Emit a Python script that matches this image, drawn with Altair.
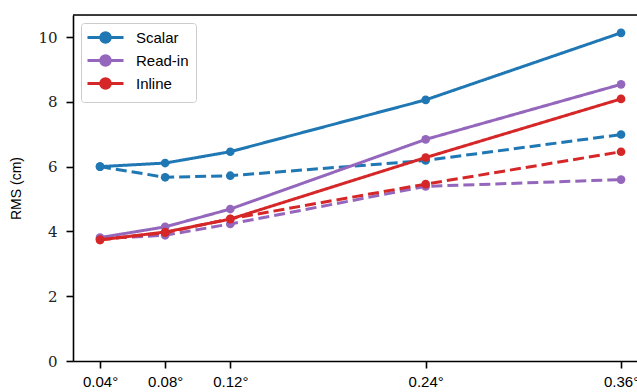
import altair as alt
import pandas as pd

angles = [0.04, 0.08, 0.12, 0.24, 0.36]
tick_labels = ["0.04°", "0.08°", "0.12°", "0.24°", "0.36°"]
methods = ["Scalar", "Read-in", "Inline"]
colors = ["#1f77b4", "#9467bd", "#d62728"]

scalar_solid = [6.00, 6.11, 6.46, 8.06, 10.13]
scalar_dashed = [6.00, 5.67, 5.72, 6.19, 6.99]
readin_solid = [3.81, 4.14, 4.69, 6.84, 8.54]
readin_dashed = [3.78, 3.88, 4.23, 5.39, 5.60]
inline_solid = [3.74, 3.98, 4.38, 6.28, 8.09]
inline_dashed = [3.74, 3.96, 4.39, 5.46, 6.46]

series = {
    ("Scalar", "solid"): scalar_solid,
    ("Scalar", "dashed"): scalar_dashed,
    ("Read-in", "solid"): readin_solid,
    ("Read-in", "dashed"): readin_dashed,
    ("Inline", "solid"): inline_solid,
    ("Inline", "dashed"): inline_dashed,
}

rows = []
for (m, k), vals in series.items():
    for a, v in zip(angles, vals):
        rows.append({"method": m, "kind": k, "angle": a, "rms": v})
df = pd.DataFrame(rows)

label_expr = "{" + ",".join(f"'{a}':'{t}'" for a, t in zip(angles, tick_labels)) + "}[toString(datum.value)]"

x_enc = alt.X(
    "angle:Q",
    scale=alt.Scale(domain=[0.0234, 0.3698], nice=False, zero=False),
    axis=alt.Axis(
        values=angles, labelExpr=label_expr, title=None, grid=False,
        domainColor="black", domainWidth=1.6, tickColor="black", tickWidth=1.6,
        tickSize=7, labelPadding=6, labelFont="Liberation Sans", labelFontSize=15,
        labelColor="black",
    ),
)
y_enc = alt.Y(
    "rms:Q",
    scale=alt.Scale(domain=[0, 10.68], nice=False),
    axis=alt.Axis(
        values=[0, 2, 4, 6, 8, 10], title="RMS (cm)", grid=False,
        domainColor="black", domainWidth=1.6, tickColor="black", tickWidth=1.6,
        tickSize=7, labelPadding=9, labelFont="DejaVu Serif", labelFontSize=15,
        labelColor="#222", titleFont="Liberation Sans", titleFontSize=14,
        titleFontWeight="normal", titleColor="black", titlePadding=14,
    ),
)

legend_path = "M-3.6,0L3.6,0M-0.95,0A0.95,0.95,0,1,1,0.95,0A0.95,0.95,0,1,1,-0.95,0Z"

color_enc = alt.Color(
    "method:N",
    scale=alt.Scale(domain=methods, range=colors),
    legend=alt.Legend(
        title=None, orient="top-left", offset=8, padding=7,
        symbolType=legend_path, symbolSize=100, symbolStrokeWidth=3,
        symbolOffset=10,
        labelFont="Liberation Sans", labelFontSize=15, labelColor="black",
        labelOffset=23, rowPadding=0, strokeColor="#cccccc", fillColor="white",
        cornerRadius=3, symbolOpacity=1,
    ),
)

layers = []
for m in methods:
    sub = df[df.method == m]
    layers.append(
        alt.Chart(sub).mark_line(
            strokeWidth=3,
            point=alt.OverlayMarkDef(filled=True, size=75, opacity=1),
        ).encode(
            x=x_enc,
            y=y_enc,
            color=color_enc,
            strokeDash=alt.StrokeDash(
                "kind:N",
                scale=alt.Scale(domain=["solid", "dashed"], range=[[1, 0], [11, 5]]),
                legend=None,
            ),
            detail="kind:N",
        )
    )

top_spine = alt.Chart(pd.DataFrame({"v": [0]})).mark_rule(
    color="black", strokeWidth=1.6
).encode(x=alt.value(0), x2=alt.value(564), y=alt.value(0))

chart = alt.layer(*layers, top_spine).properties(
    width=564, height=346,
    autosize=alt.AutoSizeParams(type="none"),
    padding={"left": 73, "top": 15, "right": 0, "bottom": 31},
).configure_view(stroke=None).configure(background="white")

chart.save("out.html", embed_options={"renderer": "svg", "actions": False})
